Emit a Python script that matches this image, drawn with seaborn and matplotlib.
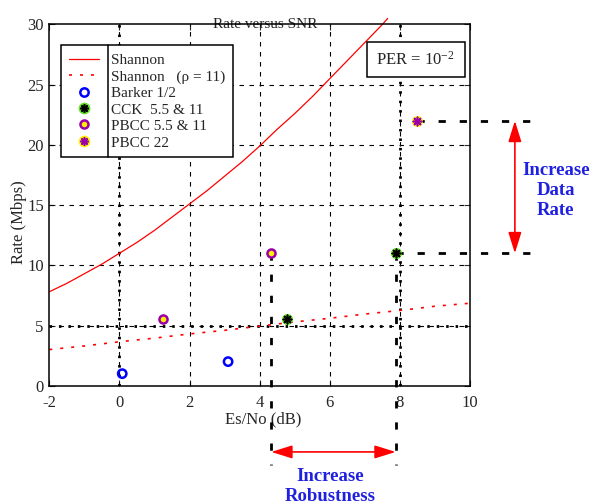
import matplotlib
matplotlib.use("Agg")
import matplotlib.pyplot as plt
import seaborn as sns
from matplotlib.lines import Line2D
from matplotlib.patches import Rectangle

# ---- data -------------------------------------------------------------
x_ticks = [-2, 0, 2, 4, 6, 8, 10]
y_ticks = [0, 5, 10, 15, 20, 25, 30]

shannon_snr = [-2, -1.5, -1, -0.5, 0, 0.5, 1, 1.5, 2, 2.5, 3, 3.5, 4, 4.5,
               5, 5.5, 6, 6.5, 7, 7.5, 7.65]
shannon_rate = [7.8, 8.5, 9.3, 10.1, 11.0, 11.9, 12.9, 14.0, 15.1, 16.2, 17.4,
                18.6, 19.9, 21.3, 22.6, 24.0, 25.5, 27.0, 28.5, 30.0, 30.5]

shannon11_snr = [-2, -1, 0, 1, 2, 3, 4, 5, 6, 7, 8, 9, 10]
shannon11_rate = [3.0, 3.3, 3.65, 3.95, 4.3, 4.6, 4.95, 5.3, 5.6, 5.95, 6.25,
                  6.6, 6.85]

barker_snr = [0.08, 3.1]
barker_rate = [1, 2]
cck_snr = [4.77, 7.88]
cck_rate = [5.5, 11]
pbcc_snr = [1.23, 4.33]
pbcc_rate = [5.5, 11]
pbcc22_snr = [8.48]
pbcc22_rate = [22]

legend_labels = ["Shannon", "Shannon   (ρ = 11)", "Barker 1/2",
                 "CCK  5.5 & 11", "PBCC 5.5 & 11", "PBCC 22"]

# ---- style ------------------------------------------------------------
sns.set_style("ticks")
plt.rcParams["font.family"] = ["Liberation Serif", "DejaVu Serif"]
plt.rcParams["mathtext.fontset"] = "custom"
plt.rcParams["mathtext.rm"] = "Liberation Serif"
plt.rcParams["mathtext.default"] = "regular"
plt.rcParams["axes.unicode_minus"] = False

RED = "#ff0000"
BLUE = "#0000ff"
GREEN = "#5ee01c"
PURPLE = "#9900aa"
YELLOW = "#ffee00"
TEXT_BLUE = "#2020e0"
INK = "#262626"
ASTER = (8, 2, 0)

fig = plt.figure(figsize=(5.96, 5.04), dpi=100)
ax = fig.add_axes([49.3 / 596, 1 - 385.7 / 504, 420.7 / 596, 361.2 / 504])
ax.set_xlim(x_ticks[0], x_ticks[-1])
ax.set_ylim(y_ticks[0], y_ticks[-1])
ax.set_xticks(x_ticks)
ax.set_yticks(y_ticks)
ax.tick_params(direction="in", length=4, width=0.8, top=True, right=True,
               labelsize=12, labelcolor=INK, colors=INK)
ax.tick_params(axis="x", pad=7)
ax.tick_params(axis="y", pad=4)
for sp in ax.spines.values():
    sp.set_linewidth(1.1)
    sp.set_color("black")
    sp.set_zorder(6)

# grid: light dashes everywhere, heavy dots at 0 dB, 8 dB and 5 Mbps
for t in x_ticks[1:-1]:
    ax.axvline(t, color="black", lw=0.8, ls=(0, (4, 5)), zorder=1)
for t in y_ticks[1:-1]:
    ax.axhline(t, color="black", lw=0.8, ls=(0, (4, 5)), zorder=1)
heavy = dict(color="black", lw=2.0, ls=(0, (0.9, 2.5)), zorder=1.5)
ax.axvline(0, **heavy)
ax.axvline(8, **heavy)
ax.axhline(5, **heavy)

# capacity curves
sns.lineplot(x=shannon_snr, y=shannon_rate, ax=ax, color=RED, lw=0.9,
             sort=False, estimator=None, clip_on=False, zorder=3)
sns.lineplot(x=shannon11_snr, y=shannon11_rate, ax=ax, color=RED, lw=1.2,
             ls=(0, (1.8, 4.8)), sort=False, estimator=None, zorder=3)

# annotations (dashed guides + arrows)
dash_kw = dict(color="black", lw=2.0, ls=(0, (2.6, 5)), clip_on=False, zorder=4)
ax.plot([pbcc22_snr[0], 11.8], [pbcc22_rate[0]] * 2, **dash_kw)
ax.plot([cck_snr[1], 11.8], [cck_rate[1]] * 2, **dash_kw)
ax.plot([pbcc_snr[1]] * 2, [pbcc_rate[1], -6.6], **dash_kw)
ax.plot([cck_snr[1]] * 2, [cck_rate[1], -6.6], **dash_kw)

arrow = dict(arrowstyle="<|-|>,head_length=0.8,head_width=0.25", color=RED,
             lw=1.2, mutation_scale=16, shrinkA=0, shrinkB=0)
ax.annotate("", xy=(11.28, cck_rate[1]), xytext=(11.28, pbcc22_rate[0]),
            arrowprops=arrow, annotation_clip=False)
ax.annotate("", xy=(cck_snr[1], -5.5), xytext=(pbcc_snr[1], -5.5),
            arrowprops=arrow, annotation_clip=False)
ax.text(12.45, 16.2, "Increase\nData\nRate", ha="center", va="center",
        ma="center", color=TEXT_BLUE, fontsize=13.5, fontweight="bold",
        linespacing=1.22, clip_on=False)
ax.text(6.0, -8.4, "Increase\nRobustness", ha="center", va="center",
        ma="center", color=TEXT_BLUE, fontsize=13.5, fontweight="bold",
        linespacing=1.22, clip_on=False)

# measured operating points
sns.scatterplot(x=barker_snr, y=barker_rate, ax=ax, marker="o", s=36,
                facecolor="none", edgecolor=BLUE, linewidth=1.8, zorder=5)
sns.scatterplot(x=pbcc_snr, y=pbcc_rate, ax=ax, marker="o", s=34,
                color=YELLOW, edgecolor=PURPLE, linewidth=1.8, zorder=5)
sns.scatterplot(x=cck_snr, y=cck_rate, ax=ax, marker="o", s=55,
                color=GREEN, edgecolor=GREEN, linewidth=0.5, zorder=5)
sns.scatterplot(x=cck_snr, y=cck_rate, ax=ax, marker=ASTER, s=36,
                color="black", edgecolor="black", linewidth=1.2, zorder=5.5)
sns.scatterplot(x=pbcc22_snr, y=pbcc22_rate, ax=ax, marker="o", s=55,
                color=YELLOW, edgecolor=YELLOW, linewidth=0.5, zorder=5)
sns.scatterplot(x=pbcc22_snr, y=pbcc22_rate, ax=ax, marker=ASTER, s=36,
                color=PURPLE, edgecolor=PURPLE, linewidth=1.2, zorder=5.5)

# labels
ax.set_xlabel("Es/No (dB)", fontsize=12, color=INK)
ax.set_ylabel("Rate (Mbps)", fontsize=12, color=INK)
ax.xaxis.set_label_coords(0.508, -0.093)
ax.xaxis.label.set_va("center")
ax.yaxis.set_label_coords(-0.073, 0.453)
ax.yaxis.label.set_va("center")
ax.set_title("Rate versus SNR", fontsize=11, color=INK, pad=0)
ax.title.set_position((0.512, 1.026))
ax.title.set_va("center")

# PER box
ax.add_patch(Rectangle((0.754, 0.854), 0.234, 0.098, transform=ax.transAxes,
                       facecolor="white", edgecolor="black", lw=1.1, zorder=7))
ax.text(0.871, 0.903, "PER = 10$^{-2}$", transform=ax.transAxes, ha="center",
        va="center", fontsize=12, color=INK, zorder=8)

# legend
handles = [
    Line2D([], [], color=RED, lw=0.9),
    Line2D([], [], color=RED, lw=1.2, ls=(0, (1.8, 4.8))),
    Line2D([], [], ls="none", marker="o", ms=6, mfc="none", mec=BLUE, mew=1.8),
    (Line2D([], [], ls="none", marker="o", ms=7.4, mfc=GREEN, mec=GREEN),
     Line2D([], [], ls="none", marker=ASTER, ms=6, mec="black", mew=1.2)),
    Line2D([], [], ls="none", marker="o", ms=5.8, mfc=YELLOW, mec=PURPLE, mew=1.8),
    (Line2D([], [], ls="none", marker="o", ms=7.4, mfc=YELLOW, mec=YELLOW),
     Line2D([], [], ls="none", marker=ASTER, ms=6, mec=PURPLE, mew=1.2)),
]
leg = ax.legend(handles, legend_labels, loc="upper left",
                bbox_to_anchor=(0.0278, 0.943), borderaxespad=0,
                fontsize=11, handlelength=2.0, handletextpad=0.8,
                borderpad=0.5, labelspacing=0.12, fancybox=False,
                framealpha=1, edgecolor="black", handleheight=0.9)
leg.get_frame().set_linewidth(1.1)
leg.set_zorder(9)
for t in leg.get_texts():
    t.set_color(INK)

fig.canvas.draw()
renderer = fig.canvas.get_renderer()
frame = leg.get_frame().get_window_extent(renderer)
txt0 = leg.get_texts()[0].get_window_extent(renderer)
sep_x = txt0.x0 - 3
inv = fig.transFigure.inverted()
(fx, fy0) = inv.transform((sep_x, frame.y0))
(_, fy1) = inv.transform((sep_x, frame.y1))
fig.add_artist(Line2D([fx, fx], [fy0, fy1], transform=fig.transFigure,
                      color="black", lw=1.1, zorder=10))

fig.savefig("out.png", dpi=100)
